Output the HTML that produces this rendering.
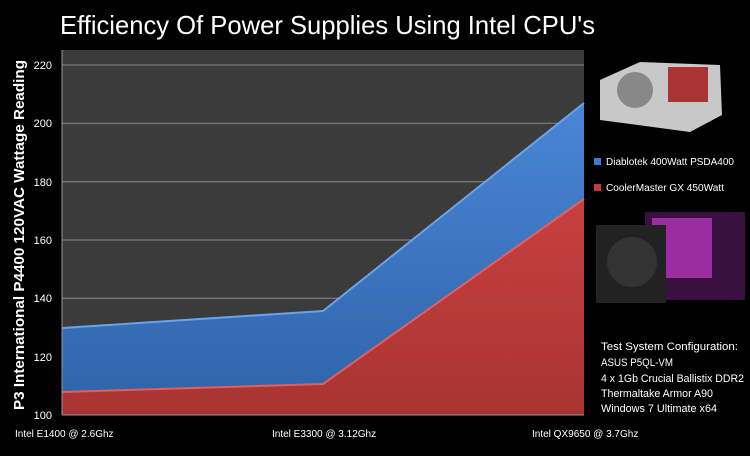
<!DOCTYPE html>
<html><head><style>
body{margin:0;background:#000;width:750px;height:456px;overflow:hidden;font-family:"Liberation Sans",sans-serif;}
</style></head><body>
<svg width="750" height="456" xmlns="http://www.w3.org/2000/svg" style="position:absolute;left:0;top:0">
<defs>
<linearGradient id="bl" x1="0" y1="0" x2="0" y2="1"><stop offset="0" stop-color="#4a86d6"/><stop offset="1" stop-color="#2e63a8"/></linearGradient>
<linearGradient id="rd" x1="0" y1="0" x2="0" y2="1"><stop offset="0" stop-color="#c84040"/><stop offset="1" stop-color="#a83432"/></linearGradient>
</defs>
<text x="60" y="34" fill="#fff" font-size="26" textLength="535" lengthAdjust="spacingAndGlyphs">Efficiency Of Power Supplies Using Intel CPU's</text>
<rect x="62" y="50" width="522" height="365" fill="#3b3b3b"/>
<g stroke="#8a8a8a" stroke-width="1">
<line x1="62" x2="584" y1="65" y2="65"/><line x1="62" x2="584" y1="123.3" y2="123.3"/>
<line x1="62" x2="584" y1="181.7" y2="181.7"/><line x1="62" x2="584" y1="240" y2="240"/>
<line x1="62" x2="584" y1="298.3" y2="298.3"/><line x1="62" x2="584" y1="356.7" y2="356.7"/>
</g>
<polygon points="62,328 323,311 584,103 584,415 62,415" fill="url(#bl)"/>
<polyline points="62,328 323,311 584,103" fill="none" stroke="#6aa3ea" stroke-width="2"/>
<polygon points="62,392 323,384 584,199 584,415 62,415" fill="url(#rd)"/>
<polyline points="62,392 323,384 584,199" fill="none" stroke="#e06060" stroke-width="2"/>
<line x1="62" y1="50" x2="62" y2="415" stroke="#999"/>
<line x1="62" y1="415" x2="584" y2="415" stroke="#999"/>
<g fill="#fff" font-size="11" text-anchor="end">
<text x="52" y="69">220</text><text x="52" y="127">200</text><text x="52" y="186">180</text>
<text x="52" y="244">160</text><text x="52" y="302">140</text><text x="52" y="361">120</text><text x="52" y="419">100</text>
</g>
<text transform="translate(24,410) rotate(-90)" fill="#fff" font-size="15" font-weight="bold" textLength="350" lengthAdjust="spacingAndGlyphs">P3 International  P4400 120VAC Wattage Reading</text>
<g fill="#fff" font-size="10">
<text x="15" y="437">Intel E1400 @ 2.6Ghz</text>
<text x="272" y="437">Intel E3300 @ 3.12Ghz</text>
<text x="532" y="437">Intel QX9650 @ 3.7Ghz</text>
</g>
<polygon points="600,80 640,62 720,65 722,115 690,132 600,120" fill="#c8c8c8"/>
<rect x="668" y="67" width="40" height="35" fill="#a33"/>
<circle cx="635" cy="90" r="18" fill="#888"/>
<rect x="594" y="158" width="7" height="7" fill="#3a7ad0"/>
<text x="606" y="165" fill="#fff" font-size="10" textLength="128" lengthAdjust="spacingAndGlyphs">Diablotek 400Watt PSDA400</text>
<rect x="594" y="184" width="7" height="7" fill="#c83a3a"/>
<text x="606" y="191" fill="#fff" font-size="10" textLength="118" lengthAdjust="spacingAndGlyphs">CoolerMaster GX  450Watt</text>
<rect x="645" y="212" width="100" height="88" fill="#3a1040"/>
<rect x="652" y="218" width="60" height="60" fill="#9a2ea0"/>
<rect x="596" y="225" width="70" height="78" fill="#222"/>
<circle cx="632" cy="262" r="25" fill="#333"/>
<g fill="#fff" font-size="11" lengthAdjust="spacingAndGlyphs">
<text x="601" y="350" textLength="137" lengthAdjust="spacingAndGlyphs">Test  System Configuration:</text>
<text x="601" y="366" textLength="72" lengthAdjust="spacingAndGlyphs">ASUS P5QL-VM</text>
<text x="601" y="382" textLength="143" lengthAdjust="spacingAndGlyphs">4 x 1Gb Crucial Ballistix  DDR2</text>
<text x="601" y="397" textLength="112" lengthAdjust="spacingAndGlyphs">Thermaltake Armor A90</text>
<text x="601" y="412" textLength="116" lengthAdjust="spacingAndGlyphs">Windows 7 Ultimate x64</text>
</g>
</svg>
</body></html>
